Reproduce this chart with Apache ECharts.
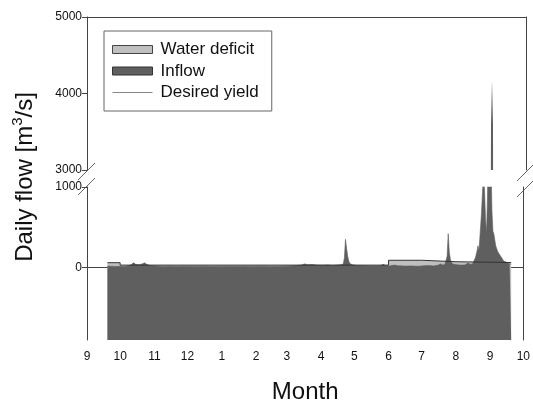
<!DOCTYPE html>
<html>
<head>
<meta charset="utf-8">
<script src="https://cdn.jsdelivr.net/npm/echarts@6/dist/echarts.min.js"></script>
<style>
html,body{margin:0;padding:0;background:#fff;}
#chart{width:533px;height:405px;}
</style>
</head>
<body>
<div id="chart"></div>
<script>
// x values are days counted from 1 September
const monthTicks = [0, 30, 61, 91, 122, 153, 181, 212, 242, 273, 303, 334, 365, 395];
const monthLabels = ['9','10','11','12','1','2','3','4','5','6','7','8','9','10'];
const upperTicks = [3000, 4000, 5000];
const lowerTicks = [0, 1000];

// Desired yield (step changes at month boundaries)
const yieldDays   = [18.5, 30, 30, 273, 273, 303, 303, 334, 334, 384];
const yieldValues = [60,   60, 30, 30,  90,  90,  72,  72,  62,  62];

// Daily inflow
const inflowDays = [18.5,22,26,30,34,37,40,42,44,47,50,52,54,57,62,68,75,82,90,98,105,112,120,128,135,142,150,158,165,172,180,186,190,194,197,200,204,208,213,218,222,226,230,
  232,233,234,235,236,237,238,240,244,250,256,262,266,268,270,274,278,282,288,294,300,305,310,314,318,320,322,324,
  325,326,327,328,329,330,332,335,338,342,345,347,349,
  350.3,351.6,353,353.9,354.8,355.7,357,358.1,359,359.9,360.8,361.7,362.6,363.2,363.5,364.4,365.3,365.6,366.6,367.5,368.3,370,371.8,373.6,375.4,377.2,379.9,382.6,384];
const inflowValues = [18,16,14,15,12,20,35,60,40,35,45,58,40,25,18,14,16,12,15,13,17,12,14,16,12,15,13,17,14,12,16,20,25,30,45,35,38,30,28,32,26,30,35,
  45,120,350,240,140,80,50,35,25,22,20,18,22,40,25,20,30,22,18,20,16,22,25,20,30,45,30,38,
  45,140,420,190,100,55,40,35,30,32,55,40,45,
  60,120,200,270,210,380,650,950,1250,950,600,430,900,1800,3590,4170,3590,1400,700,450,420,270,200,160,120,80,65,45,40];

const pair = (xs, ys) => xs.map((x, i) => [x, ys[i]]);
const inflowData = pair(inflowDays, inflowValues);
const yieldData = pair(yieldDays, yieldValues);

const FONT = 'Liberation Sans, Arial, Helvetica, sans-serif';
const AXIS = '#444';
const DARK = '#5f5f5f';
const LIGHT = '#bfbfbf';

const chart = echarts.init(document.getElementById('chart'), null, {renderer: 'canvas'});
const axisLineStyle = {show: true, lineStyle: {color: AXIS, width: 1}};
const plain = v => String(v);
chart.setOption({
  animation: false,
  backgroundColor: '#fff',
  textStyle: {fontFamily: FONT},
  grid: [
    {left: 87, width: 439, top: 17, height: 153},
    {left: 87, width: 439, top: 187, height: 154}
  ],
  xAxis: [
    {gridIndex: 0, type: 'value', min: 0, max: 395, position: 'top',
     axisLine: axisLineStyle, axisTick: {show: false}, axisLabel: {show: false}, splitLine: {show: false}},
    {gridIndex: 1, type: 'value', min: 0, max: 395, position: 'bottom',
     axisLine: axisLineStyle,
     axisTick: {show: true, customValues: monthTicks, length: 4, lineStyle: {color: AXIS}},
     axisLabel: {show: true, customValues: monthTicks, margin: 11, fontSize: 12, color: '#111', fontFamily: FONT,
       formatter: v => monthLabels[monthTicks.indexOf(v)]},
     splitLine: {show: false},
     name: 'Month', nameLocation: 'middle', nameGap: 40,
     nameTextStyle: {fontSize: 24, color: '#111', fontFamily: FONT}}
  ],
  yAxis: [
    {gridIndex: 0, type: 'value', min: 3000, max: 5000, position: 'left',
     axisLine: axisLineStyle,
     axisTick: {show: true, customValues: upperTicks, length: 5, lineStyle: {color: AXIS}},
     axisLabel: {customValues: upperTicks, margin: 5, fontSize: 12, color: '#111', fontFamily: FONT, formatter: plain},
     splitLine: {show: false}},
    {gridIndex: 0, type: 'value', min: 3000, max: 5000, position: 'right',
     axisLine: axisLineStyle, axisTick: {show: false}, axisLabel: {show: false}, splitLine: {show: false}},
    {gridIndex: 1, type: 'value', min: -900, max: 1000, position: 'left',
     axisLine: axisLineStyle,
     axisTick: {show: true, customValues: lowerTicks, length: 5, lineStyle: {color: AXIS}},
     axisLabel: {customValues: lowerTicks, margin: 5, fontSize: 12, color: '#111', fontFamily: FONT, formatter: plain},
     splitLine: {show: false}},
    {gridIndex: 1, type: 'value', min: -900, max: 1000, position: 'right',
     axisLine: axisLineStyle, axisTick: {show: false}, axisLabel: {show: false}, splitLine: {show: false}}
  ],
  legend: {
    orient: 'vertical', left: 104, top: 31,
    padding: [10, 13, 10, 8], itemGap: 4.5,
    itemWidth: 40, itemHeight: 8,
    backgroundColor: '#fff', borderColor: '#666', borderWidth: 1,
    textStyle: {fontSize: 17, color: '#111', fontFamily: FONT, padding: [0, 0, 0, 3]},
    data: [
      {name: 'Water deficit', icon: 'rect', itemStyle: {color: LIGHT, borderColor: '#444', borderWidth: 1}},
      {name: 'Inflow', icon: 'rect', itemStyle: {color: DARK, borderColor: '#333', borderWidth: 1}},
      {name: 'Desired yield', lineStyle: {color: '#888', width: 1},
       itemStyle: {color: 'rgba(0,0,0,0)', borderColor: 'rgba(0,0,0,0)', borderWidth: 0, opacity: 0}}
    ]
  },
  series: [
    {name: 'Water deficit', type: 'line', xAxisIndex: 1, yAxisIndex: 2, data: yieldData,
     symbol: 'none', lineStyle: {width: 0, color: LIGHT}, itemStyle: {color: LIGHT},
     areaStyle: {color: LIGHT, opacity: 1, origin: 'start'}, z: 1},
    {name: 'Inflow', type: 'line', xAxisIndex: 1, yAxisIndex: 2, data: inflowData,
     symbol: 'none', lineStyle: {width: 0.6, color: DARK}, itemStyle: {color: DARK},
     areaStyle: {color: DARK, opacity: 1, origin: 'start'}, z: 2},
    {name: 'Desired yield', type: 'line', xAxisIndex: 1, yAxisIndex: 2, data: yieldData,
     symbol: 'none', lineStyle: {width: 1, color: '#333'}, itemStyle: {color: '#888'}, z: 3},
    {name: 'Inflow', type: 'line', xAxisIndex: 0, yAxisIndex: 0, data: inflowData,
     symbol: 'none', lineStyle: {width: 0, color: DARK}, itemStyle: {color: DARK},
     areaStyle: {color: DARK, opacity: 1, origin: 'start'}, z: 2}
  ],
  graphic: [
    {type: 'text', x: 25, y: 177, rotation: Math.PI / 2,
     style: {text: 'Daily flow [m{sup|3}/s]', fontSize: 24, fontFamily: FONT, fill: '#111',
       align: 'center', verticalAlign: 'middle',
       rich: {sup: {fontSize: 15, fontFamily: FONT, fill: '#111', verticalAlign: 'top', lineHeight: 30}}}},
    {type: 'line', shape: {x1: 78, y1: 180, x2: 95, y2: 163}, style: {stroke: '#666', lineWidth: 1}},
    {type: 'line', shape: {x1: 78, y1: 195, x2: 95, y2: 178}, style: {stroke: '#666', lineWidth: 1}},
    {type: 'line', shape: {x1: 517, y1: 181, x2: 534, y2: 164}, style: {stroke: '#666', lineWidth: 1}},
    {type: 'line', shape: {x1: 517, y1: 197, x2: 534, y2: 180}, style: {stroke: '#666', lineWidth: 1}}
  ]
});
</script>
</body>
</html>
